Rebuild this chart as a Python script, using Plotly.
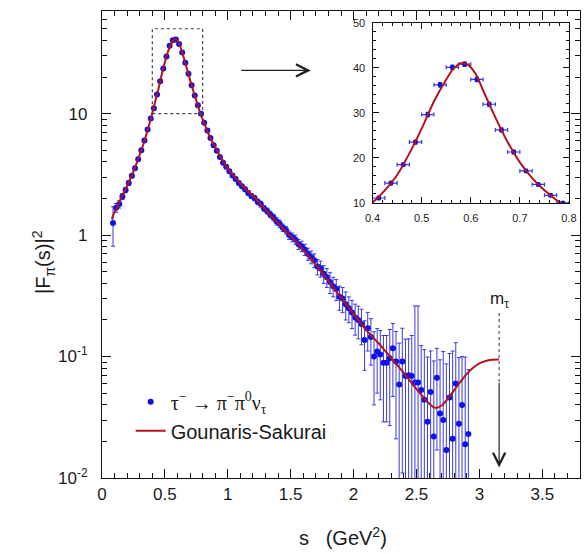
import math
import plotly.graph_objects as go

# ---------------- data ----------------
s_bins = [0.0875, 0.1125, 0.1375, 0.1625, 0.1875, 0.2125, 0.2375, 0.2625, 0.2875, 0.3125,
          0.3375, 0.3625, 0.3875, 0.4125, 0.4375, 0.4625, 0.4875, 0.5125, 0.5375, 0.5625,
          0.5875, 0.6125, 0.6375, 0.6625, 0.6875, 0.7125, 0.7375, 0.7625, 0.7875, 0.8125,
          0.8375, 0.8625, 0.8875, 0.9125, 0.9375, 0.9625, 0.9875, 1.0125, 1.0375, 1.0625,
          1.0875, 1.1125, 1.1375, 1.1625, 1.1875, 1.2125, 1.2375, 1.2625, 1.2875, 1.3125,
          1.3375, 1.3625, 1.3875, 1.4125, 1.4375, 1.4625, 1.4875, 1.5125, 1.5375, 1.5625,
          1.5875, 1.6125, 1.6375, 1.6625, 1.6875, 1.7125, 1.7375, 1.7625, 1.7875, 1.8125,
          1.8375, 1.8625, 1.8875, 1.9125, 1.9375, 1.9625, 1.9875, 2.0125, 2.0375, 2.0625,
          2.0875, 2.1125, 2.1375, 2.1625, 2.1875, 2.2125, 2.2375, 2.2625, 2.2875, 2.3125,
          2.3375, 2.3625, 2.3875, 2.4125, 2.4375, 2.4625, 2.4875, 2.5125, 2.5375, 2.5625,
          2.5875, 2.6125, 2.6375, 2.6625, 2.6875, 2.7125, 2.7375, 2.7625, 2.7875, 2.8125,
          2.8375, 2.8625, 2.8875, 2.9125]

ff_data = [1.26, 1.68, 1.80, 2.08, 2.35, 2.68, 3.08, 3.55, 4.22, 5.00,
           6.00, 7.40, 9.10, 11.1, 14.4, 18.5, 23.5, 29.6, 36.2, 40.1,
           40.8, 37.4, 31.9, 26.2, 21.3, 17.1, 14.1, 11.7, 10.0, 8.40,
           7.25, 6.30, 5.50, 4.95, 4.40, 3.95, 3.65, 3.35, 3.10, 2.90,
           2.68, 2.52, 2.38, 2.22, 2.10, 2.02, 1.88, 1.80, 1.66, 1.58,
           1.48, 1.40, 1.30, 1.24, 1.15, 1.10, 1.00, 0.96, 0.92, 0.84,
           0.81, 0.76, 0.70, 0.66, 0.62, 0.55, 0.53, 0.48, 0.45, 0.41,
           0.38, 0.36, 0.31, 0.30, 0.27, 0.25, 0.23, 0.21, 0.20, 0.185,
           0.137, 0.171, 0.145, 0.100, 0.110, 0.104, 0.089, 0.089, 0.097, 0.117,
           0.091, 0.059, 0.091, 0.069, 0.070, 0.069, 0.061, 0.061, 0.053, 0.044,
           0.029, 0.051, 0.022, 0.067, 0.034, 0.030, 0.017, 0.046, 0.021, 0.060,
           0.028, 0.040, 0.019, 0.023]

ff_err = [0.45, 0.14, 0.13, 0.12, 0.12, 0.12, 0.13, 0.14, 0.15, 0.17,
          0.19, 0.22, 0.26, 0.35, 0.40, 0.40, 0.45, 0.50, 0.50, 0.50,
          0.50, 0.50, 0.45, 0.45, 0.40, 0.35, 0.35, 0.30, 0.30, 0.25,
          0.20, 0.18, 0.16, 0.15, 0.13, 0.12, 0.11, 0.10, 0.10, 0.10,
          0.10, 0.10, 0.10, 0.10, 0.10, 0.10, 0.10, 0.10, 0.09, 0.09,
          0.09, 0.09, 0.09, 0.09, 0.08, 0.08, 0.08, 0.08, 0.08, 0.08,
          0.08, 0.08, 0.08, 0.08, 0.08, 0.08, 0.08, 0.08, 0.08, 0.08,
          0.07, 0.07, 0.07, 0.07, 0.07, 0.06, 0.06, 0.06, 0.06, 0.06,
          0.06, 0.06, 0.06, 0.06, 0.06, 0.06, 0.06, 0.06, 0.07, 0.07,
          0.07, 0.07, 0.08, 0.07, 0.07, 0.08, 0.20, 0.20, 0.07, 0.07,
          0.07, 0.06, 0.07, 0.05, 0.06, 0.08, 0.07, 0.06, 0.09, 0.07,
          0.07, 0.06, 0.08, 0.055]

bin_halfwidth = [0.0125] * len(s_bins)

s_curve = [0.078, 0.10, 0.125, 0.15, 0.175, 0.20, 0.225, 0.25, 0.275, 0.30,
           0.325, 0.35, 0.375, 0.40, 0.425, 0.45, 0.475, 0.50, 0.525, 0.55,
           0.565, 0.58, 0.595, 0.61, 0.625, 0.65, 0.675, 0.70, 0.725, 0.75,
           0.775, 0.80, 0.85, 0.90, 0.95, 1.00, 1.05, 1.10, 1.20, 1.30,
           1.40, 1.50, 1.60, 1.70, 1.80, 1.90, 2.00, 2.10, 2.20, 2.30,
           2.40, 2.50, 2.60, 2.65, 2.70, 2.75, 2.80, 2.85, 2.90, 2.95,
           3.00, 3.05, 3.10, 3.157]
ff_curve = [1.35, 1.55, 1.75, 2.0, 2.25, 2.55, 2.9, 3.35, 3.9, 4.6,
            5.45, 6.6, 8.1, 10.1, 12.8, 16.2, 21.0, 26.5, 32.5, 37.4,
            39.8, 41.0, 40.6, 38.6, 35.0, 29.0, 23.5, 19.0, 15.5, 12.8,
            10.6, 9.0, 6.7, 5.3, 4.3, 3.5, 3.05, 2.65, 2.1, 1.62,
            1.25, 0.98, 0.76, 0.57, 0.42, 0.305, 0.225, 0.165, 0.128, 0.097,
            0.073, 0.054, 0.041, 0.0378, 0.0395, 0.045, 0.053, 0.062, 0.072, 0.081,
            0.088, 0.092, 0.094, 0.0945]

x_tickvals = [0, 0.5, 1, 1.5, 2, 2.5, 3, 3.5]
x_ticktext = ["0", "0.5", "1", "1.5", "2", "2.5", "3", "3.5"]
y_tickvals = [0.01, 0.1, 1, 10]
y_ticktext = ["10<sup>-2</sup>", "10<sup>-1</sup>", "1", "10"]
inset_x_tickvals = [0.4, 0.5, 0.6, 0.7, 0.8]
inset_y_tickvals = [10, 20, 30, 40, 50]

m_tau_sq = 3.157
zoom_box_s = [0.4, 0.8]
zoom_box_ff = [10, 50]

# ---------------- styling ----------------
BLUE = "#1010e8"
EBLUE = "#3a3ae0"
RED = "#b3131b"
FONT = "Liberation Sans, Arial, Helvetica, sans-serif"
TXT = "#1a1a1a"

lg = math.log10

fig = go.Figure()

fig.add_trace(go.Scatter(
    x=s_bins, y=ff_data, mode="markers",
    name='<span style="font-family:Liberation Serif, Times New Roman, serif">τ<sup>−</sup> → π<sup>−</sup>π<sup>0</sup>ν<sub>τ</sub></span>',
    marker=dict(color=BLUE, size=6),
    error_y=dict(type="data", array=ff_err, color=EBLUE, thickness=1, width=2),
    xaxis="x", yaxis="y"))
fig.add_trace(go.Scatter(
    x=s_curve, y=ff_curve, mode="lines", name="Gounaris-Sakurai",
    line=dict(color=RED, width=2, shape="spline", smoothing=0.8),
    xaxis="x", yaxis="y"))

ins = [i for i, s in enumerate(s_bins) if zoom_box_s[0] <= s <= zoom_box_s[1]]
fig.add_trace(go.Scatter(
    x=[s_bins[i] for i in ins], y=[ff_data[i] for i in ins], mode="markers",
    marker=dict(color=BLUE, size=5),
    error_y=dict(type="data", array=[ff_err[i] for i in ins], color=EBLUE, thickness=1.2, width=2),
    error_x=dict(type="data", array=[bin_halfwidth[i] for i in ins], color=EBLUE, thickness=1.2, width=2),
    showlegend=False, xaxis="x2", yaxis="y2"))
fig.add_trace(go.Scatter(
    x=s_curve, y=ff_curve, mode="lines",
    line=dict(color=RED, width=2, shape="spline", smoothing=0.8),
    showlegend=False, xaxis="x2", yaxis="y2"))

axis_common = dict(showline=True, linecolor="#111", linewidth=1.2, mirror="allticks",
                   ticks="inside", tickcolor="#111", showgrid=False, zeroline=False)

fig.update_layout(
    width=588, height=554,
    margin=dict(l=102, r=0, t=11, b=76),
    paper_bgcolor="white", plot_bgcolor="white",
    font=dict(family=FONT, color=TXT),
    xaxis=dict(range=[0, 3.8], tickvals=x_tickvals, ticktext=x_ticktext,
               ticklen=9, tickwidth=1,
               minor=dict(ticks="inside", ticklen=5, dtick=0.1, tick0=0, tickcolor="#111", showgrid=False),
               tickfont=dict(size=17, family=FONT, color=TXT), **axis_common),
    yaxis=dict(type="log", range=[-2, 1.845], tickvals=y_tickvals, ticktext=y_ticktext,
               ticklen=9, tickwidth=1, ticklabelstandoff=10,
               minor=dict(ticks="inside", ticklen=5, dtick="D1", tickcolor="#111", showgrid=False),
               tickfont=dict(size=17, family=FONT, color=TXT), **axis_common),
    xaxis2=dict(domain=[0.566, 0.977], anchor="y2", range=[0.4, 0.8],
                tickvals=inset_x_tickvals, ticklen=6, tickwidth=1, ticklabelstandoff=5,
                minor=dict(ticks="inside", ticklen=3, dtick=0.02, tick0=0.4, tickcolor="#111", showgrid=False),
                tickfont=dict(size=11, family=FONT, color=TXT), **axis_common),
    yaxis2=dict(domain=[0.589, 0.975], anchor="x2", range=[10, 50],
                tickvals=inset_y_tickvals, ticklen=6, tickwidth=1, ticklabelstandoff=4,
                minor=dict(ticks="inside", ticklen=3, dtick=2, tick0=10, tickcolor="#111", showgrid=False),
                tickfont=dict(size=11, family=FONT, color=TXT), **axis_common),
    legend=dict(x=0.06, y=0.205, xanchor="left", yanchor="top",
                bgcolor="rgba(0,0,0,0)", font=dict(size=20, family=FONT, color=TXT),
                tracegroupgap=0, itemwidth=30),
    showlegend=True,
)

# dotted zoom box (shape coordinates use data values on the log axis)
fig.add_shape(type="rect", xref="x", yref="y",
              x0=zoom_box_s[0], x1=zoom_box_s[1], y0=zoom_box_ff[0], y1=zoom_box_ff[1],
              line=dict(color="#444", width=1.2, dash="dot"))
# m_tau dotted marker line
fig.add_shape(type="line", xref="x", yref="y",
              x0=m_tau_sq, x1=m_tau_sq, y0=0.0617, y1=0.229,
              line=dict(color="#333", width=1, dash="dot"))

annotations = [
    dict(x=1.66, y=lg(22.7), xref="x", yref="y", ax=-71, ay=0,
         showarrow=True, arrowhead=5, arrowsize=2.0, arrowwidth=1.2, arrowcolor="#222", text=""),
    dict(x=m_tau_sq, y=lg(0.0122), xref="x", yref="y", ax=0, ay=-86,
         showarrow=True, arrowhead=5, arrowsize=2.0, arrowwidth=1.2, arrowcolor="#222", text=""),
    dict(x=m_tau_sq, y=lg(0.29), xref="x", yref="y", text="m<sub>τ</sub>", showarrow=False,
         font=dict(size=17, family=FONT, color=TXT), xanchor="center", yanchor="middle"),
    dict(x=-0.1235, y=0.4625, xref="paper", yref="paper", text="|F<sub>π</sub>(s)|<sup>2</sup>",
         textangle=-90, showarrow=False, font=dict(size=20, family=FONT, color=TXT),
         xanchor="center", yanchor="middle"),
    dict(x=0.504, y=-0.126, xref="paper", yref="paper", text="s\u00a0\u00a0\u00a0(GeV<sup>2</sup>)",
         showarrow=False, font=dict(size=20, family=FONT, color=TXT),
         xanchor="center", yanchor="middle"),
]
fig.update_layout(annotations=annotations)

fig.write_html("out.html")
